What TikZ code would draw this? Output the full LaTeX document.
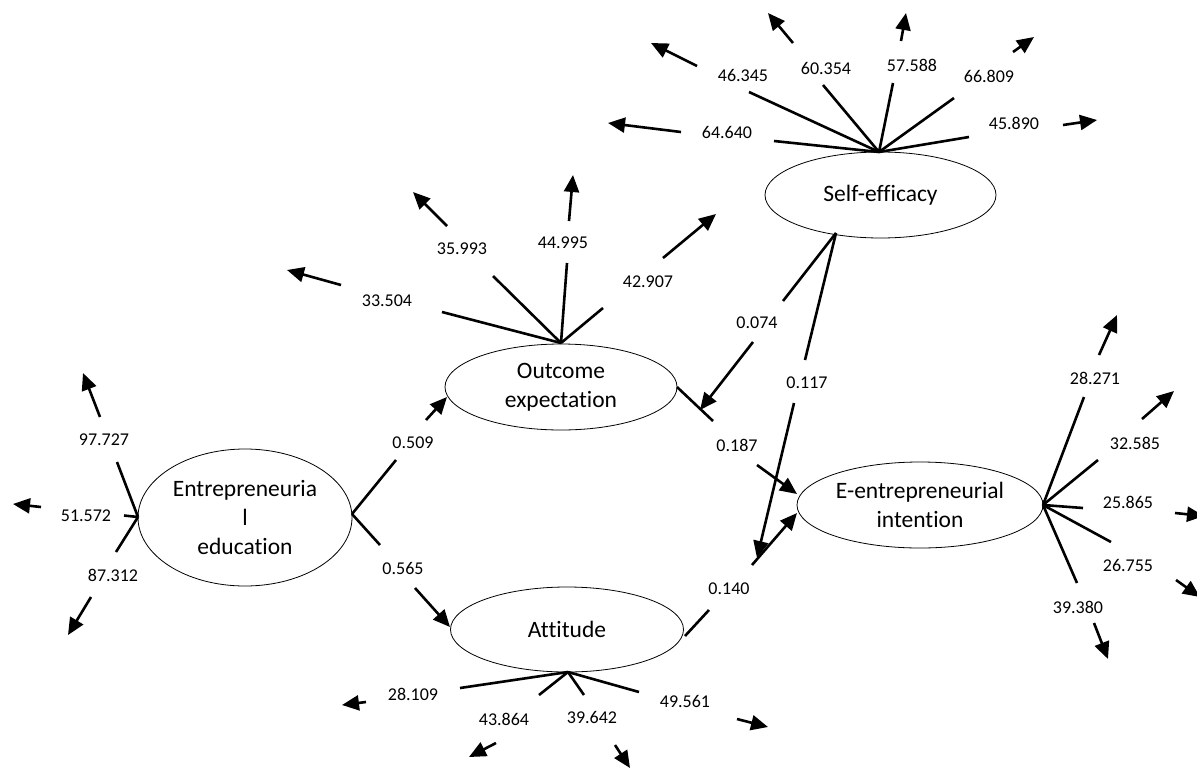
\documentclass[tikz,border=0pt]{standalone}
\usepackage{fontspec}
\setmainfont{Carlito}[Ligatures=NoCommon]
\usetikzlibrary{shapes.geometric,arrows.meta}
\tikzset{
  lat/.style={ellipse,draw,line width=0.8pt,inner sep=0pt,align=center,
    font=\fontsize{23.5pt}{29pt}\selectfont},
  lbl/.style={inner sep=0pt,font=\fontsize{18pt}{21pt}\selectfont},
  conn/.style={line width=2.6pt},
  tip/.style={conn,-{Triangle[length=17pt,width=15pt]}}
}
\newcommand\indic[7]{%
  \coordinate (#1l) at #3;
  \node[lbl] (#1) at #4 {#5};
  \coordinate (#1s) at #6;
  \coordinate (#1t) at #7;
  \draw[conn] (#2) -- (#1l);
  \draw[tip] (#1s) -- (#1t);
}
\begin{document}
\begin{tikzpicture}[x=1pt,y=-1pt]
\useasboundingbox (0,0) rectangle (1197,769);
\clip (0,0) rectangle (1197,769);
% latent variables
\node[lat,minimum width=214pt,minimum height=137pt] (ee) at (245,517.5) {Entrepreneuria\\l\\education};
\node[lat,minimum width=232pt,minimum height=86pt] (oe) at (561,387) {Outcome\\expectation};
\node[lat,minimum width=233pt,minimum height=85pt] (at) at (567,629.5) {Attitude};
\node[lat,minimum width=231pt,minimum height=86pt] (se) at (880.5,195) {Self-efficacy};
\node[lat,minimum width=246pt,minimum height=86pt] (ei) at (920,505) {E-entrepreneurial\\intention};
% hubs
\coordinate (eew) at (138,517);
\coordinate (eee) at (352,514);
\coordinate (oen) at (561,343);
\coordinate (oee) at (677,387);
\coordinate (sen) at (879,152);
\coordinate (ses) at (836,233);
\coordinate (ats) at (568,672);
\coordinate (ate) at (685,636);
\coordinate (eie) at (1043,505);
% Entrepreneurial education indicators
\indic{e1}{eew}{(117,462)}{(104,440)}{97.727}{(100,417)}{(83,373)}
\indic{e2}{eew}{(124,515.5)}{(86,516)}{51.572}{(41,507)}{(13,504)}
\indic{e3}{eew}{(116,552)}{(113,575)}{87.312}{(91,597)}{(68,635)}
% Outcome expectation indicators
\indic{o1}{oen}{(442,312)}{(387,301)}{33.504}{(341,285)}{(287,270)}
\indic{o2}{oen}{(493,276)}{(462,249)}{35.993}{(447,226)}{(413,192)}
\indic{o3}{oen}{(567,263)}{(563,243)}{44.995}{(569,221)}{(573,175)}
\indic{o4}{oen}{(603,308)}{(648,282)}{42.907}{(663,258)}{(716,214)}
% Self-efficacy indicators
\indic{s1}{sen}{(774,141)}{(727,132)}{64.640}{(681,132)}{(608,123)}
\indic{s2}{sen}{(749,92)}{(743,75)}{46.345}{(697,66)}{(651,43)}
\indic{s3}{sen}{(823,85)}{(826,68)}{60.354}{(793,43)}{(768,13)}
\indic{s4}{sen}{(893,83)}{(912,65)}{57.588}{(901,41)}{(906,13)}
\indic{s5}{sen}{(954,98)}{(989,76)}{66.809}{(1013,52)}{(1034,37)}
\indic{s6}{sen}{(969,137)}{(1014,123)}{45.890}{(1063,125)}{(1097,120)}
% Attitude indicators
\indic{a1}{ats}{(460,688)}{(413,694)}{28.109}{(366,702)}{(342,705)}
\indic{a2}{ats}{(539,695)}{(504,719)}{43.864}{(496,743)}{(469,757)}
\indic{a3}{ats}{(584,695)}{(592,717)}{39.642}{(615,745)}{(630,768)}
\indic{a4}{ats}{(639,692)}{(685,701)}{49.561}{(737,719)}{(768,727)}
% Intention indicators
\indic{i1}{eie}{(1084,397)}{(1095,378)}{28.271}{(1099,355)}{(1117,315)}
\indic{i2}{eie}{(1098,460)}{(1135,443)}{32.585}{(1142,419)}{(1174,391)}
\indic{i3}{eie}{(1083,508)}{(1128,502)}{25.865}{(1175,513)}{(1204,516)}
\indic{i4}{eie}{(1111,542)}{(1128,565)}{26.755}{(1176,580)}{(1200,597)}
\indic{i5}{eie}{(1077,583)}{(1078,607)}{39.380}{(1094,623)}{(1108,659)}
% structural paths
\indic{p1}{eee}{(396,460)}{(413,443)}{0.509}{(426,420)}{(447,397)}
\indic{p2}{eee}{(380,545)}{(403,568)}{0.565}{(415,588)}{(450,627)}
\indic{p3}{ses}{(783,301)}{(757,323)}{0.074}{(753,342)}{(700,410)}
\indic{p4}{ses}{(805,360)}{(807,383)}{0.117}{(794,403)}{(757,558)}
\indic{p5}{oee}{(713,421)}{(737,445)}{0.187}{(757,465)}{(797,494)}
\indic{p6}{ate}{(709,610)}{(729,589)}{0.140}{(752,565)}{(797,513)}
\end{tikzpicture}
\end{document}
